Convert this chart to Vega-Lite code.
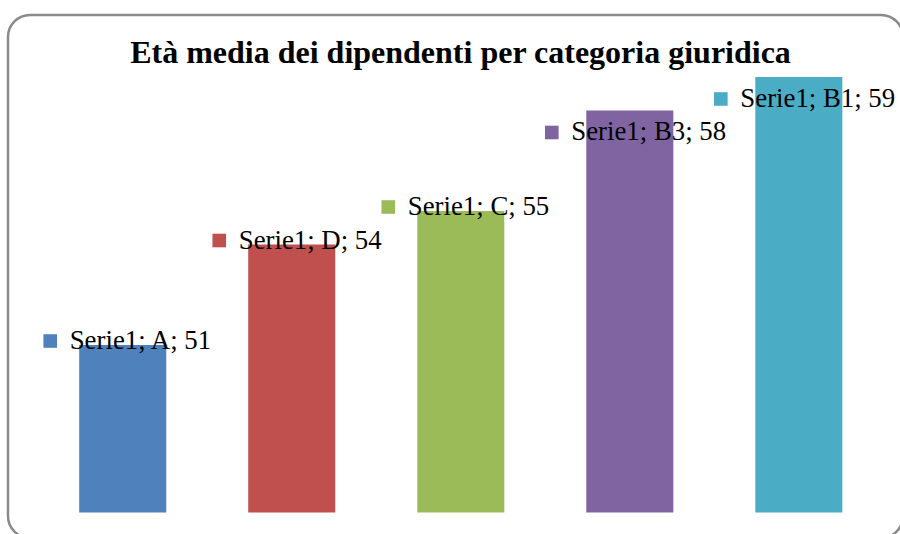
{
  "$schema": "https://vega.github.io/schema/vega-lite/v6.json",
  "width": 895,
  "height": 523,
  "autosize": {"type": "none"},
  "padding": {"left": 8, "top": 15, "right": 0, "bottom": 0},
  "background": "white",
  "title": {
    "text": "Età media dei dipendenti per categoria giuridica",
    "font": "Liberation Serif",
    "fontSize": 32,
    "fontWeight": "bold",
    "color": "#000000",
    "anchor": "middle",
    "frame": "group",
    "baseline": "alphabetic",
    "offset": -80,
    "dx": 5
  },
  "data": {
    "values": [
      {"category": "A", "value": 51, "label": "Serie1; A; 51"},
      {"category": "D", "value": 54, "label": "Serie1; D; 54"},
      {"category": "C", "value": 55, "label": "Serie1; C; 55"},
      {"category": "B3", "value": 58, "label": "Serie1; B3; 58"},
      {"category": "B1", "value": 59, "label": "Serie1; B1; 59"}
    ]
  },
  "encoding": {
    "x": {
      "field": "category",
      "type": "nominal",
      "sort": null,
      "axis": null,
      "scale": {"paddingInner": 0.485, "paddingOuter": 0.39, "align": 0.54}
    },
    "y": {
      "field": "value",
      "type": "quantitative",
      "axis": null,
      "scale": {"domain": [45.24, 60.85], "nice": false, "zero": false}
    },
    "color": {
      "field": "category",
      "type": "nominal",
      "legend": null,
      "scale": {
        "domain": ["A", "D", "C", "B3", "B1"],
        "range": ["#4F81BD", "#C0504D", "#9BBB59", "#8064A2", "#4BACC6"]
      }
    }
  },
  "layer": [
    {
      "mark": {"type": "bar"},
      "encoding": {"y2": {"datum": 46}}
    },
    {
      "transform": [{"filter": {"field": "category", "oneOf": ["A", "D", "C"]}}],
      "mark": {"type": "point", "shape": "square", "filled": true, "opacity": 1, "size": 185, "xOffset": -72.5, "yOffset": -4}
    },
    {
      "transform": [{"filter": {"field": "category", "oneOf": ["A", "D", "C"]}}],
      "mark": {"type": "text", "align": "left", "baseline": "alphabetic", "dx": -53, "dy": 4, "font": "Liberation Serif", "fontSize": 26.8, "color": "#000000"},
      "encoding": {"text": {"field": "label"}, "color": {"value": "#000000"}}
    },
    {
      "transform": [{"filter": {"field": "category", "oneOf": ["B3", "B1"]}}],
      "mark": {"type": "point", "shape": "square", "filled": true, "opacity": 1, "size": 185, "xOffset": -78, "yOffset": 22}
    },
    {
      "transform": [{"filter": {"field": "category", "oneOf": ["B3", "B1"]}}],
      "mark": {"type": "text", "align": "left", "baseline": "alphabetic", "dx": -58.5, "dy": 30, "font": "Liberation Serif", "fontSize": 26.8, "color": "#000000"},
      "encoding": {"text": {"field": "label"}, "color": {"value": "#000000"}}
    }
  ],
  "config": {
    "view": {"stroke": "#8a8a8a", "strokeWidth": 2.5, "cornerRadius": 22}
  }
}
